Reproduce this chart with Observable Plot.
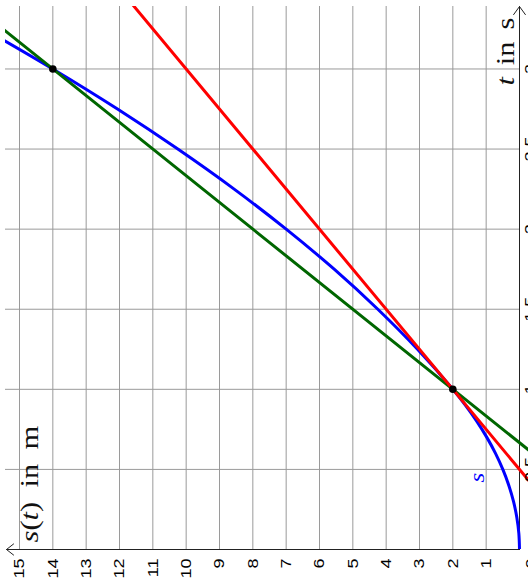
<!DOCTYPE html>
<html><head><meta charset="utf-8">
<script src="https://cdn.jsdelivr.net/npm/d3@7"></script>
<script src="https://cdn.jsdelivr.net/npm/@observablehq/plot@0.6"></script>
<style>
html,body{margin:0;padding:0;background:#fff;overflow:hidden;}
#chart svg{display:block;}
</style></head><body><div id="chart"></div>
<script>
// tick values and labels
const sTicks = [1,2,3,4,5,6,7,8,9,10,11,12,13,14,15];
const sTickLabels = ["1","2","3","4","5","6","7","8","9","10","11","12","13","14","15"];
const tTicks = [0.5,1,1.5,2,2.5,3];
const tTickLabels = ["0.5","1","1.5","2","2.5","3"];
// s(t) curve
const curveT = [0,0.1,0.2,0.3,0.4,0.5,0.6,0.7,0.8,0.9,1,1.25,1.5,1.75,2,2.25,2.5,2.75,3,3.25];
const curveS = [0,0.02,0.08,0.18,0.32,0.5,0.72,0.98,1.28,1.62,2,3.06,4.25,5.56,7,8.56,10.25,12.06,14,16.06];
// tangent (red) and secant (green) lines
const tangentT = [0.4, 3.5];
const tangentS = [-0.4, 12];
const secantT = [0.55, 3.35];
const secantS = [-0.7, 16.1];
// marked points
const pointT = [1, 3];
const pointS = [2, 14];
// axis extents
const sMax = 15.42, sMin = -0.27, tMax = 3.39;

const curve = curveT.map((t, i) => ({t, s: curveS[i]}));
const tangent = tangentT.map((t, i) => ({t, s: tangentS[i]}));
const secant = secantT.map((t, i) => ({t, s: secantS[i]}));
const points = pointT.map((t, i) => ({t, s: pointS[i]}));

const sans = "'Liberation Sans', Arial, sans-serif";
const serif = "'Liberation Serif', 'Times New Roman', serif";

const plot = Plot.plot({
  width: 528, height: 584,
  marginLeft: 5, marginRight: 0, marginTop: 6, marginBottom: 35,
  x: {domain: [sMax, sMin], axis: null},
  y: {domain: [0, tMax], axis: null},
  style: {background: "white", overflow: "visible"},
  marks: [
    Plot.ruleX(sTicks, {x: d => d, y1: 0, y2: tMax, stroke: "#9a9a9a", strokeWidth: 1}),
    Plot.ruleY(tTicks, {y: d => d, x1: sMax, x2: 0, stroke: "#9a9a9a", strokeWidth: 1}),
    Plot.arrow([0], {x1: 0, y1: 0, x2: sMax - 0.03, y2: 0, stroke: "#222", strokeWidth: 1, headAngle: 76, headLength: 13.5}),
    Plot.arrow([0], {x1: 0, y1: 0, x2: 0, y2: tMax, stroke: "#222", strokeWidth: 1, headAngle: 72, headLength: 15}),
    Plot.line(curve, {x: "s", y: "t", stroke: "#0000ff", strokeWidth: 3, strokeLinecap: "butt", curve: "catmull-rom", clip: true}),
    Plot.line(secant, {x: "s", y: "t", stroke: "#006600", strokeWidth: 3, clip: true}),
    Plot.line(tangent, {x: "s", y: "t", stroke: "#ff0000", strokeWidth: 3, clip: true}),
    Plot.dot(points, {x: "s", y: "t", r: 3.8, fill: "black"}),
    Plot.text(sTicks, {x: d => d, y: 0, text: (d, i) => sTickLabels[i], rotate: -90, textAnchor: "end", dy: 9, fontSize: 15, fontFamily: sans, fill: "black"}),
    Plot.text(tTicks, {x: 0, y: d => d, text: (d, i) => tTickLabels[i], rotate: -90, textAnchor: "middle", lineAnchor: "top", dx: 5, fontSize: 15, fontFamily: sans, fill: "black"}),
    Plot.text(["0"], {x: 0, y: 0, text: d => d, rotate: -90, textAnchor: "middle", lineAnchor: "top", dx: 6, dy: 14, fontSize: 15, fontFamily: sans, fill: "black"}),
    Plot.text(["s(t) in m"], {frameAnchor: "bottom-left", text: d => d, rotate: -90, textAnchor: "start", lineAnchor: "bottom", dx: 32, dy: -7, fontSize: 25, fontFamily: serif, fill: "#111"}),
    Plot.text(["t in s"], {frameAnchor: "top-right", text: d => d, rotate: -90, textAnchor: "start", lineAnchor: "bottom", dx: -15, dy: 79, fontSize: 25, fontFamily: serif, fill: "#111"}),
    Plot.text(["s"], {frameAnchor: "bottom-right", text: d => d, rotate: -90, textAnchor: "middle", lineAnchor: "middle", dx: -51.5, dy: -72, fontSize: 21, fontStyle: "italic", fontFamily: serif, fill: "#0000ff"})
  ]
});

d3.select(plot).selectAll("text").each(function() {
  const txt = this.textContent;
  const tr = this.getAttribute("transform") || "";
  if (txt === "s(t) in m") {
    this.innerHTML = '<tspan font-style="italic">s</tspan>(<tspan font-style="italic">t</tspan>) in m';
    this.setAttribute("transform", tr + " scale(1.22,1)");
    this.style.wordSpacing = "5.5px";
  } else if (txt === "t in s") {
    this.innerHTML = '<tspan font-style="italic">t</tspan> in s';
    this.setAttribute("transform", tr + " scale(1.22,1)");
    this.style.wordSpacing = "3.5px";
  } else {
    this.setAttribute("transform", tr + " scale(1.2,1)");
  }
});

document.getElementById("chart").appendChild(plot);
</script></body></html>
